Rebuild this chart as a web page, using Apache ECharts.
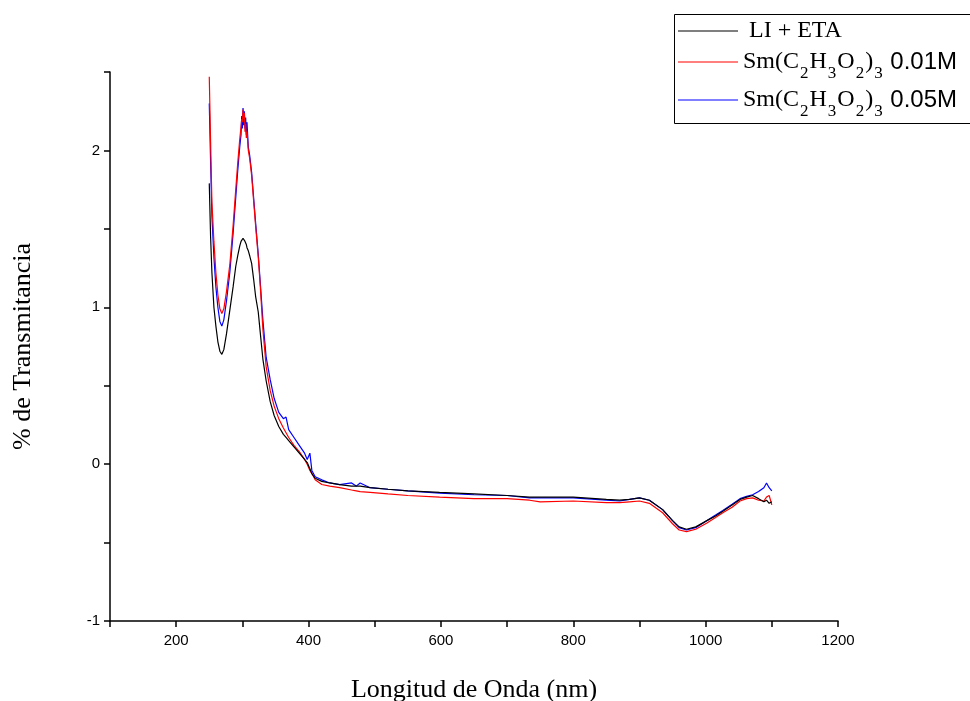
<!DOCTYPE html>
<html>
<head>
<meta charset="utf-8">
<script src="https://cdn.jsdelivr.net/npm/echarts@6/dist/echarts.min.js"></script>
<style>
  html, body { margin: 0; padding: 0; background: #fff; }
  #chart { width: 970px; height: 701px; }
</style>
</head>
<body>
<div id="chart"></div>
<script>
'use strict';
// wavelengths (nm), shared by the three spectra
var wavelengths = [250, 252, 254, 257, 260, 263, 266, 269, 272, 276, 281, 286, 290, 293, 296, 298, 299, 300, 301, 302, 303, 304, 305, 306, 307, 309, 311, 314, 317, 320, 324, 327, 331, 336, 342, 348, 355, 362, 366, 370, 378, 386, 394, 398, 402, 405, 410, 420, 432, 447, 465, 472, 478, 493, 520, 550, 598, 650, 700, 734, 750, 800, 850, 870, 885, 900, 915, 935, 950, 960, 971, 985, 1002, 1015, 1026, 1040, 1052, 1062, 1071, 1080, 1088, 1092, 1096, 1100];

var liEta = [1.79, 1.45, 1.22, 1.00, 0.88, 0.78, 0.72, 0.70, 0.73, 0.83, 0.98, 1.13, 1.26, 1.33, 1.39, 1.42, 1.43, 1.43, 1.44, 1.43, 1.43, 1.42, 1.41, 1.40, 1.38, 1.36, 1.33, 1.28, 1.18, 1.07, 0.97, 0.84, 0.67, 0.53, 0.40, 0.31, 0.24, 0.19, 0.17, 0.15, 0.11, 0.07, 0.03, 0.01, -0.03, -0.06, -0.09, -0.11, -0.12, -0.13, -0.14, -0.14, -0.14, -0.15, -0.16, -0.17, -0.18, -0.19, -0.20, -0.21, -0.21, -0.21, -0.225, -0.23, -0.225, -0.215, -0.23, -0.29, -0.36, -0.40, -0.415, -0.40, -0.36, -0.33, -0.30, -0.26, -0.225, -0.21, -0.20, -0.22, -0.24, -0.23, -0.25, -0.24];

var sm001 = [2.47, 2.05, 1.67, 1.42, 1.22, 1.08, 0.99, 0.96, 0.99, 1.10, 1.27, 1.52, 1.75, 1.92, 2.07, 2.15, 2.20, 2.18, 2.26, 2.20, 2.24, 2.12, 2.17, 2.08, 2.12, 2.00, 1.95, 1.84, 1.68, 1.52, 1.32, 1.14, 0.86, 0.62, 0.47, 0.37, 0.29, 0.23, 0.20, 0.17, 0.12, 0.08, 0.03, 0.00, -0.04, -0.06, -0.10, -0.13, -0.14, -0.15, -0.165, -0.17, -0.175, -0.18, -0.19, -0.20, -0.21, -0.22, -0.22, -0.23, -0.24, -0.235, -0.245, -0.245, -0.24, -0.235, -0.25, -0.31, -0.38, -0.42, -0.43, -0.415, -0.375, -0.34, -0.31, -0.275, -0.235, -0.22, -0.215, -0.23, -0.235, -0.21, -0.20, -0.26];

var sm005 = [2.30, 1.93, 1.58, 1.32, 1.13, 1.00, 0.91, 0.88, 0.92, 1.04, 1.22, 1.47, 1.70, 1.87, 2.02, 2.10, 2.22, 2.14, 2.27, 2.16, 2.25, 2.14, 2.21, 2.10, 2.18, 2.02, 1.97, 1.86, 1.70, 1.54, 1.34, 1.16, 0.92, 0.68, 0.54, 0.42, 0.33, 0.29, 0.30, 0.22, 0.17, 0.12, 0.07, 0.03, 0.07, -0.04, -0.08, -0.10, -0.12, -0.13, -0.12, -0.14, -0.12, -0.15, -0.16, -0.17, -0.185, -0.195, -0.20, -0.215, -0.215, -0.215, -0.23, -0.235, -0.225, -0.215, -0.23, -0.29, -0.36, -0.405, -0.42, -0.405, -0.36, -0.325, -0.295, -0.255, -0.22, -0.205, -0.195, -0.175, -0.15, -0.12, -0.15, -0.17];

var seriesNames = ['LI + ETA', 'Sm(C2H3O2)3 0.01M', 'Sm(C2H3O2)3 0.05M'];
var seriesColors = ['#000000', '#ff0000', '#0000ff'];
var seriesValues = [liEta, sm001, sm005];
var legendTops = [19, 50, 88];

function pairs(ys) {
  return wavelengths.map(function (x, i) { return [x, ys[i]]; });
}

var serif = '"Liberation Serif", "DejaVu Serif", serif';
var sans = '"Liberation Sans", Arial, sans-serif';

var myChart = echarts.init(document.getElementById('chart'), null, { renderer: 'canvas' });

var legendRich = {
  h: { fontFamily: serif, fontSize: 24, color: '#000' },
  t: { fontFamily: serif, fontSize: 24, color: '#000', verticalAlign: 'middle', lineHeight: 40 },
  s: { fontFamily: serif, fontSize: 17, color: '#000', verticalAlign: 'bottom', lineHeight: 7, padding: [0, 1, 0, 1] },
  a: { fontFamily: sans, fontSize: 24, color: '#000', verticalAlign: 'middle', lineHeight: 40 }
};

function legendLabel(name) {
  if (name === 'LI + ETA') return '{h| LI + ETA}';
  var conc = name.split(' ')[1];
  return '{t|Sm(C}{s|2}{t|H}{s|3}{t|O}{s|2}{t|)}{s|3}{a| ' + conc + '}';
}

var option = {
  backgroundColor: '#fff',
  animation: false,
  grid: { left: 110, top: 72, right: 132, bottom: 80, containLabel: false, outerBoundsMode: 'none' },
  // one legend per entry so the rows can be spaced like the original
  legend: seriesNames.map(function (name, i) {
    return {
      orient: 'vertical',
      left: 678,
      top: legendTops[i],
      icon: 'rect',
      itemWidth: 60,
      itemHeight: 1,
      padding: 0,
      data: [name],
      formatter: legendLabel,
      textStyle: { rich: legendRich }
    };
  }),
  graphic: [{
    type: 'rect',
    left: 672,
    top: 12,
    shape: { width: 320, height: 109 },
    style: { fill: 'none', stroke: '#000', lineWidth: 1 },
    z: 100
  }],
  xAxis: {
    type: 'value',
    min: 100,
    max: 1200,
    interval: 100,
    name: 'Longitud de Onda (nm)',
    nameLocation: 'middle',
    nameGap: 56,
    nameTextStyle: { fontFamily: serif, fontSize: 26, color: '#000' },
    axisLine: { show: true, onZero: false, lineStyle: { color: '#000', width: 1.5 } },
    axisTick: { show: true, inside: false, length: 6, lineStyle: { color: '#000', width: 1.5 } },
    axisLabel: {
      fontFamily: sans, fontSize: 15, color: '#000', margin: 12,
      formatter: function (v) { return v % 200 === 0 ? String(v) : ''; }
    },
    splitLine: { show: false }
  },
  yAxis: {
    type: 'value',
    min: -1,
    max: 2.5,
    interval: 0.5,
    name: '% de Transmitancia',
    nameLocation: 'middle',
    nameGap: 74,
    nameRotate: 90,
    nameTextStyle: { fontFamily: serif, fontSize: 26, color: '#000' },
    axisLine: { show: true, onZero: false, lineStyle: { color: '#000', width: 1.5 } },
    axisTick: { show: true, inside: false, length: 6, lineStyle: { color: '#000', width: 1.5 } },
    axisLabel: {
      fontFamily: sans, fontSize: 15, color: '#000', margin: 10,
      formatter: function (v) { return Math.abs(v - Math.round(v)) < 1e-9 && v < 2.4 ? String(Math.round(v)) : ''; }
    },
    splitLine: { show: false }
  },
  series: seriesNames.map(function (name, i) {
    return {
      name: name,
      type: 'line',
      data: pairs(seriesValues[i]),
      symbol: 'none',
      smooth: false,
      color: seriesColors[i],
      lineStyle: { color: seriesColors[i], width: 1.2 },
      z: 10 - i
    };
  })
};

myChart.setOption(option);
</script>
</body>
</html>
